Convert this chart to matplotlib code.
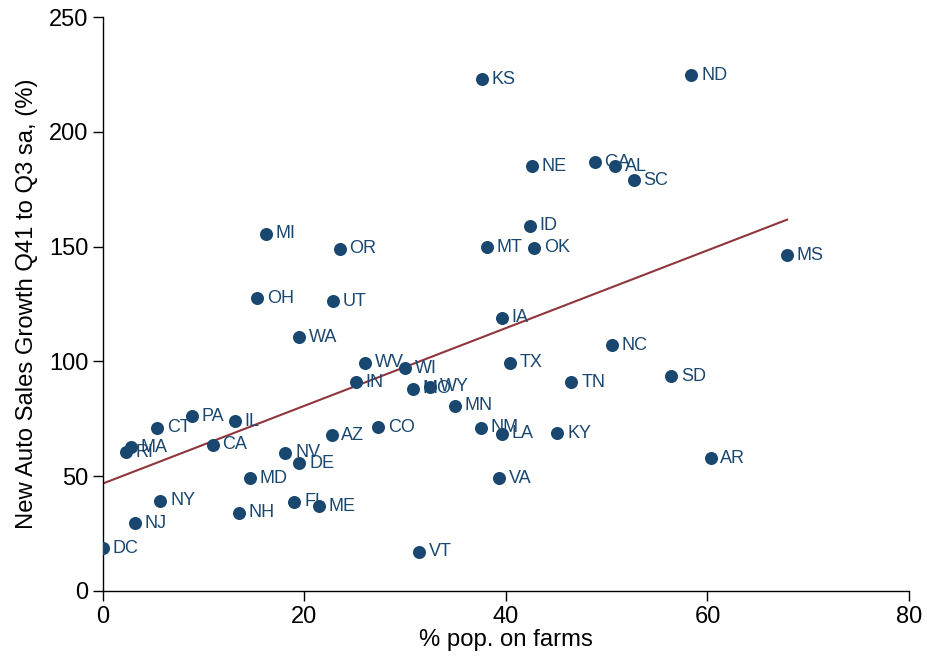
import numpy as np
import matplotlib
matplotlib.use("Agg")
import matplotlib.pyplot as plt

states = ["DC", "NJ", "NY", "RI", "MA", "CT", "PA", "IL", "CA", "MD", "NH", "NV", "DE",
          "FL", "ME", "AZ", "CO", "IN", "WV", "WI", "MO", "WY", "MN", "NM", "LA", "KY",
          "VA", "VT", "TX", "TN", "NC", "SD", "AR", "MS", "IA", "WA", "OH", "UT", "MI",
          "OR", "MT", "OK", "ID", "NE", "GA", "AL", "SC", "KS", "ND"]
farm_pct = [0.0, 3.2, 5.7, 2.3, 2.8, 5.4, 8.8, 13.1, 10.9, 14.6, 13.5, 18.1, 19.5,
            19.0, 21.4, 22.7, 27.3, 25.1, 26.0, 30.0, 30.8, 32.5, 34.9, 37.5, 39.6, 45.1,
            39.3, 31.4, 40.4, 46.5, 50.5, 56.4, 60.3, 67.9, 39.6, 19.5, 15.3, 22.8, 16.2,
            23.5, 38.1, 42.8, 42.4, 42.6, 48.8, 50.8, 52.7, 37.6, 58.4]
auto_growth = [18.7, 29.6, 39.2, 60.5, 62.7, 71.0, 76.2, 74.0, 63.6, 49.2, 34.0, 60.1, 55.7,
               38.8, 37.0, 67.9, 71.4, 91.0, 99.3, 97.1, 88.0, 88.9, 80.6, 71.0, 68.4, 68.8,
               49.2, 17.0, 99.3, 91.0, 107.1, 93.6, 57.9, 146.3, 118.9, 110.6, 127.6, 126.3, 155.5,
               149.0, 149.8, 149.4, 159.0, 185.1, 186.8, 185.1, 179.0, 223.0, 224.7]

x_ticks = [0, 20, 40, 60, 80]
y_ticks = [0, 50, 100, 150, 200, 250]

navy = "#1a476f"
maroon = "#90353b"

plt.rcParams['font.family'] = ['Liberation Sans', 'DejaVu Sans']

fig = plt.figure(figsize=(9.27, 6.57), dpi=100)
ax = fig.add_axes([0.111, 0.1005, 0.8696, 0.8736])

x = np.array(farm_pct)
y = np.array(auto_growth)

ax.scatter(x, y, s=88, color=navy, zorder=3, linewidths=0)
for s, xi, yi in zip(states, x, y):
    ax.annotate(s, (xi, yi), xytext=(7, 0), textcoords="offset points",
                va="center", ha="left", fontsize=13, color=navy, zorder=4)

b, a = np.polyfit(x, y, 1)
xl = np.array([x.min(), x.max()])
ax.plot(xl, a + b * xl, color=maroon, lw=1.5, zorder=2)

ax.set_xlim(0, 80)
ax.set_ylim(0, 250)
ax.set_xticks(x_ticks)
ax.set_yticks(y_ticks)
ax.tick_params(labelsize=17, length=7, width=1, direction="out", colors="black")
for side in ["top", "right"]:
    ax.spines[side].set_visible(False)
for side in ["left", "bottom"]:
    ax.spines[side].set_linewidth(1)
ax.set_xlabel("% pop. on farms", fontsize=17.2, labelpad=1)
ax.set_ylabel("New Auto Sales Growth Q41 to Q3 sa, (%)", fontsize=17.2, labelpad=8)

fig.savefig("out.png", dpi=100)
